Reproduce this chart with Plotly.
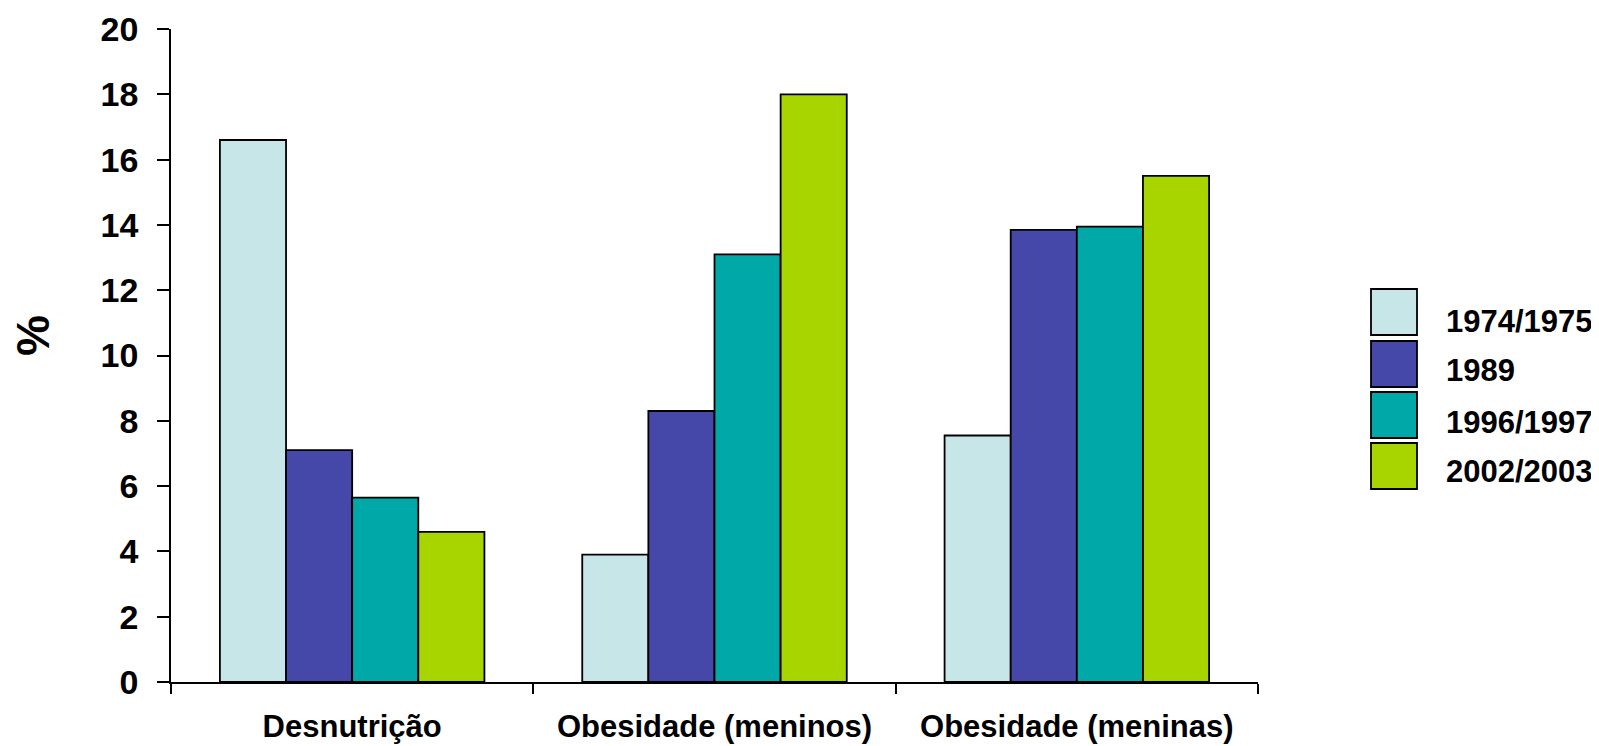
import plotly.graph_objects as go

categories = ["Desnutrição", "Obesidade (meninos)", "Obesidade (meninas)"]
series_names = ["1974/1975", "1989", "1996/1997", "2002/2003"]
v_1974 = [16.6, 3.9, 7.55]
v_1989 = [7.1, 8.3, 13.85]
v_1996 = [5.65, 13.1, 13.95]
v_2002 = [4.6, 18.0, 15.5]
y_ticks = [0, 2, 4, 6, 8, 10, 12, 14, 16, 18, 20]

colors = ["#C6E6E8", "#4548A8", "#00A8A8", "#A8D400"]
values = [v_1974, v_1989, v_1996, v_2002]

# the page body has an 8px margin; work in page pixels and shift by OFF
OFF = 8
W, H = 1599 - OFF, 746 - OFF
L, R, T, B = 171 - OFF, 341, 29 - OFF, 64
PW, PH = W - L - R, H - T - B
FONT = "Liberation Sans, Arial, sans-serif"


def px2x(px):
    return (px - OFF - L) / PW


def px2y(py):
    return 1 - (py - OFF - T) / PH


fig = go.Figure()
for name, vals, col in zip(series_names, values, colors):
    fig.add_trace(go.Bar(
        x=categories, y=vals, name=name,
        marker=dict(color=col, line=dict(color="#000000", width=1.8)),
        showlegend=False,
    ))

# custom legend (large swatches)
sw_top = [289, 341, 392, 443]
sw_h = 46
txt_y = [321, 371, 422, 472]
shapes = []
annotations = []
for i, (name, col) in enumerate(zip(series_names, colors)):
    shapes.append(dict(
        type="rect", xref="paper", yref="paper",
        x0=px2x(1371), x1=px2x(1417),
        y0=px2y(sw_top[i] + sw_h), y1=px2y(sw_top[i]),
        fillcolor=col, line=dict(color="#000000", width=1.8),
    ))
    annotations.append(dict(
        text="<b>%s</b>" % name, xref="paper", yref="paper",
        x=px2x(1444), y=px2y(txt_y[i]), xanchor="left", yanchor="middle",
        showarrow=False, font=dict(family=FONT, size=31, color="#000000"),
    ))

annotations.append(dict(
    text="<b>%</b>", xref="paper", yref="paper",
    x=px2x(33), y=px2y(336), xanchor="center", yanchor="middle",
    textangle=-90, showarrow=False,
    font=dict(family=FONT, size=46, color="#000000"),
))

fig.update_layout(
    template="none",
    width=W, height=H,
    margin=dict(l=L, r=R, t=T, b=B, pad=0, autoexpand=False),
    paper_bgcolor="#FFFFFF", plot_bgcolor="#FFFFFF",
    barmode="group", bargap=0.27, bargroupgap=0,
    shapes=shapes, annotations=annotations,
    showlegend=False,
    font=dict(family=FONT, color="#000000"),
)
fig.update_xaxes(
    automargin=False,
    showline=True, linecolor="#000000", linewidth=1.8,
    ticks="outside", tickson="boundaries", ticklen=10, tickwidth=1.8,
    tickcolor="#000000", showgrid=False, zeroline=False,
    tickfont=dict(family=FONT, size=31, color="#000000", weight="bold"),
    ticklabelstandoff=16,
)
fig.update_yaxes(
    automargin=False,
    range=[0, 20], tickvals=y_ticks,
    showline=True, linecolor="#000000", linewidth=1.8,
    ticks="outside", ticklen=12, tickwidth=1.8, tickcolor="#000000",
    showgrid=False, zeroline=False,
    tickfont=dict(family=FONT, size=34, color="#000000", weight="bold"),
    ticklabelstandoff=12,
)

fig.write_html("out.html")
